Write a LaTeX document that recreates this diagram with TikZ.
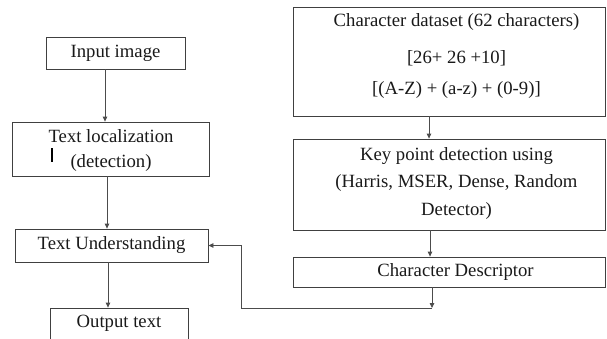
\documentclass[tikz,border=0pt]{standalone}
\usepackage{fontspec}
\setmainfont{Liberation Serif}
\usetikzlibrary{arrows.meta}
\begin{document}
\begin{tikzpicture}[x=1pt,y=-1pt,
  box/.style={draw=black!75, line width=0.8pt, inner sep=0pt, font=\fontsize{18.7}{25}\selectfont, text=black!90},
  txt/.style={inner sep=0pt, align=center, font=\fontsize{18.7}{25}\selectfont, text=black!90},
  arr/.style={draw=black!70, line width=0.8pt, -{Triangle[length=5pt,width=4.5pt]}}]
\useasboundingbox (0,0) rectangle (607,338);
\begin{scope}
\clip (0,0) rectangle (607,338);
% left column
\node[box, minimum width=139pt, minimum height=32pt] (inp) at (115.5,53) {Input image};
\node[box, minimum width=197pt, minimum height=54pt] (loc) at (110.5,149) {};
\node[txt] (loctxt) at (111,150.5) {Text localization\\(detection)};
\node[box, minimum width=193pt, minimum height=33pt] (und) at (111.5,245.5) {Text Understanding};
\node[box, minimum width=138pt, minimum height=36pt] (out) at (119,326) {};
\node[txt] (outtxt) at (119,323) {Output text};
% right column
\node[box, minimum width=312pt, minimum height=109pt] (cds) at (449.5,61.5) {};
\node[txt, font=\fontsize{18.7}{31}\selectfont] (cdstxt) at (456.5,56) {Character dataset (62 characters)\\[6pt] {[}26+ 26 +10{]}\\ {[}(A-Z) + (a-z) + (0-9){]}};
\node[box, minimum width=312pt, minimum height=91pt] (kp) at (449.5,184.5) {};
\node[txt, font=\fontsize{18.7}{27.5}\selectfont] (kptxt) at (456.5,183) {Key point detection using\\(Harris, MSER, Dense, Random\\Detector)};
\node[box, minimum width=312pt, minimum height=30pt] (cdesc) at (449.5,272) {};
\node[txt] (cdesctxt) at (455.5,272) {Character Descriptor};
% small bar
\coordinate (bar1) at (52,148);
\coordinate (bar2) at (52,162);
\draw[line width=1.4pt, black] (bar1) -- (bar2);
% connectors
\draw[arr] ([xshift=-10.5pt]inp.south) -- ([xshift=-5.5pt]loc.north);
\draw[arr] ([xshift=-3.5pt]loc.south) -- ([xshift=-4.5pt]und.north);
\draw[arr] ([xshift=-3.5pt]und.south) -- ([xshift=-11pt]out.north);
\draw[arr] ([xshift=-20.5pt]cds.south) -- ([xshift=-20.5pt]kp.north);
\draw[arr] ([xshift=-19.5pt]kp.south) -- ([xshift=-19.5pt]cdesc.north);
\coordinate (fb1) at (432,308);
\coordinate (fb2) at (241,308);
\coordinate (fb3) at (241,245.5);
\draw[arr] ([xshift=-17.5pt]cdesc.south) -- (fb1);
\draw[arr] (fb1) -- (fb2) -- (fb3) -- (und.east);
\end{scope}
\end{tikzpicture}
\end{document}
